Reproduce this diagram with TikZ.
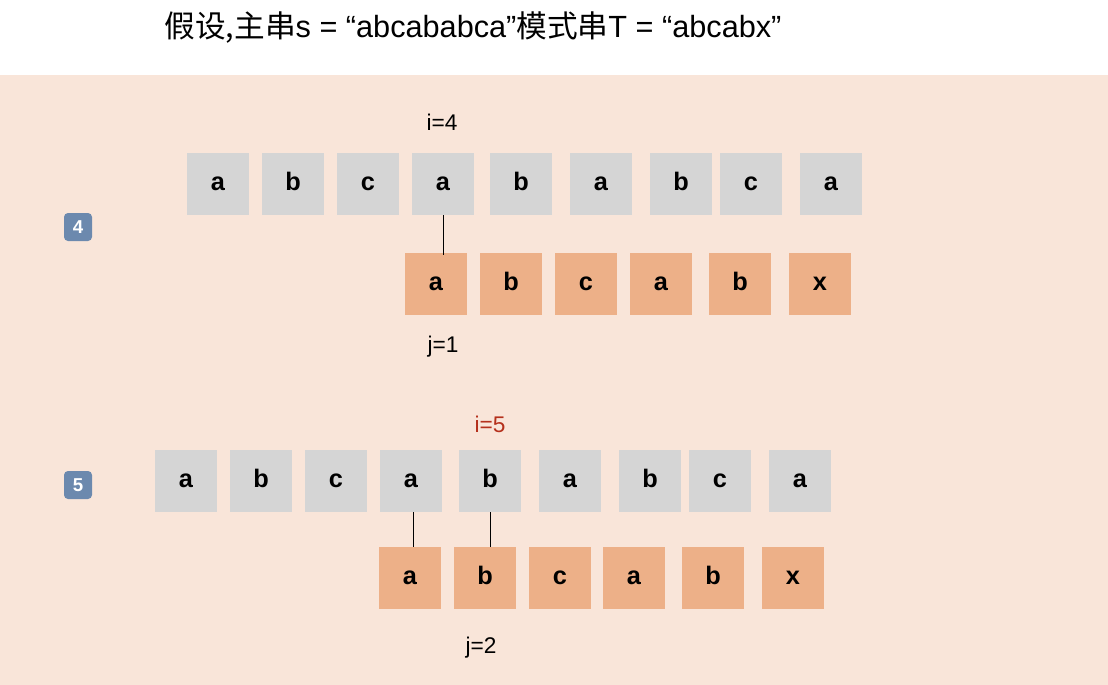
\documentclass[tikz,border=0pt]{standalone}
\usepackage{fontspec}
\setmainfont{Liberation Sans}
\newfontfamily\cjk{Noto Sans CJK SC}
\usetikzlibrary{positioning}
\definecolor{bgpeach}{HTML}{F9E5D9}
\definecolor{cellgray}{HTML}{D5D5D5}
\definecolor{cellorange}{HTML}{EDB088}
\definecolor{capblue}{HTML}{6C89AE}
\definecolor{ired}{HTML}{B5301C}
\tikzset{
    cell/.style={minimum size=46.5pt, inner sep=0pt, text height=10pt, text depth=0pt, font=\fontsize{19}{19}\selectfont\bfseries},
    mainc/.style={cell, fill=cellgray},
    patc/.style={cell, fill=cellorange},
    lbl/.style={font=\fontsize{17}{17}\selectfont},
    keycap/.style={fill=capblue, rounded corners=3pt, minimum size=21pt, inner sep=0pt, text=white, font=\fontsize{14}{14}\selectfont\bfseries}
}
\begin{document}
\begin{tikzpicture}[x=0.75pt,y=-0.75pt]
    \useasboundingbox (0,0) rectangle (1108,685);
    \fill[bgpeach] (0,75) rectangle (1108,685);
    \node[font=\fontsize{23}{23}\selectfont] (title) at (473,28) {{\cjk 假设,主串}s = “abcababca”{\cjk 模式串}T = “abcabx”};
    % step 4
    \node[keycap] (k4) at (78,227) {4};
    \foreach \x/\c [count=\n] in {218/a,293/b,368/c,443/a,521/b,601/a,681/b,751/c,831/a}
        \node[mainc] (s\n) at (\x,184) {\c};
    \foreach \x/\c [count=\n] in {436/a,511/b,586/c,661/a,740/b,820/x}
        \node[patc] (t\n) at (\x,284) {\c};
    \coordinate (p4) at (443,255);
    \draw[semithick] (443,215) -- (p4);
    \node[lbl] (i4) at (442,122) {i=4};
    \node[lbl] (j1) at (443,347) {j=1};
    % step 5
    \node[keycap] (k5) at (78,485) {5};
    \foreach \x/\c [count=\n] in {186/a,261/b,336/c,411/a,490/b,570/a,650/b,720/c,800/a}
        \node[mainc] (u\n) at (\x,481) {\c};
    \foreach \x/\c [count=\n] in {410/a,485/b,560/c,634/a,713/b,793/x}
        \node[patc] (v\n) at (\x,578) {\c};
    \draw[semithick] (413,512) -- (413,547);
    \draw[semithick] (490,512) -- (490,547);
    \node[lbl, text=ired] (i5) at (490,424) {i=5};
    \node[lbl] (j2) at (481,648) {j=2};
\end{tikzpicture}
\end{document}
